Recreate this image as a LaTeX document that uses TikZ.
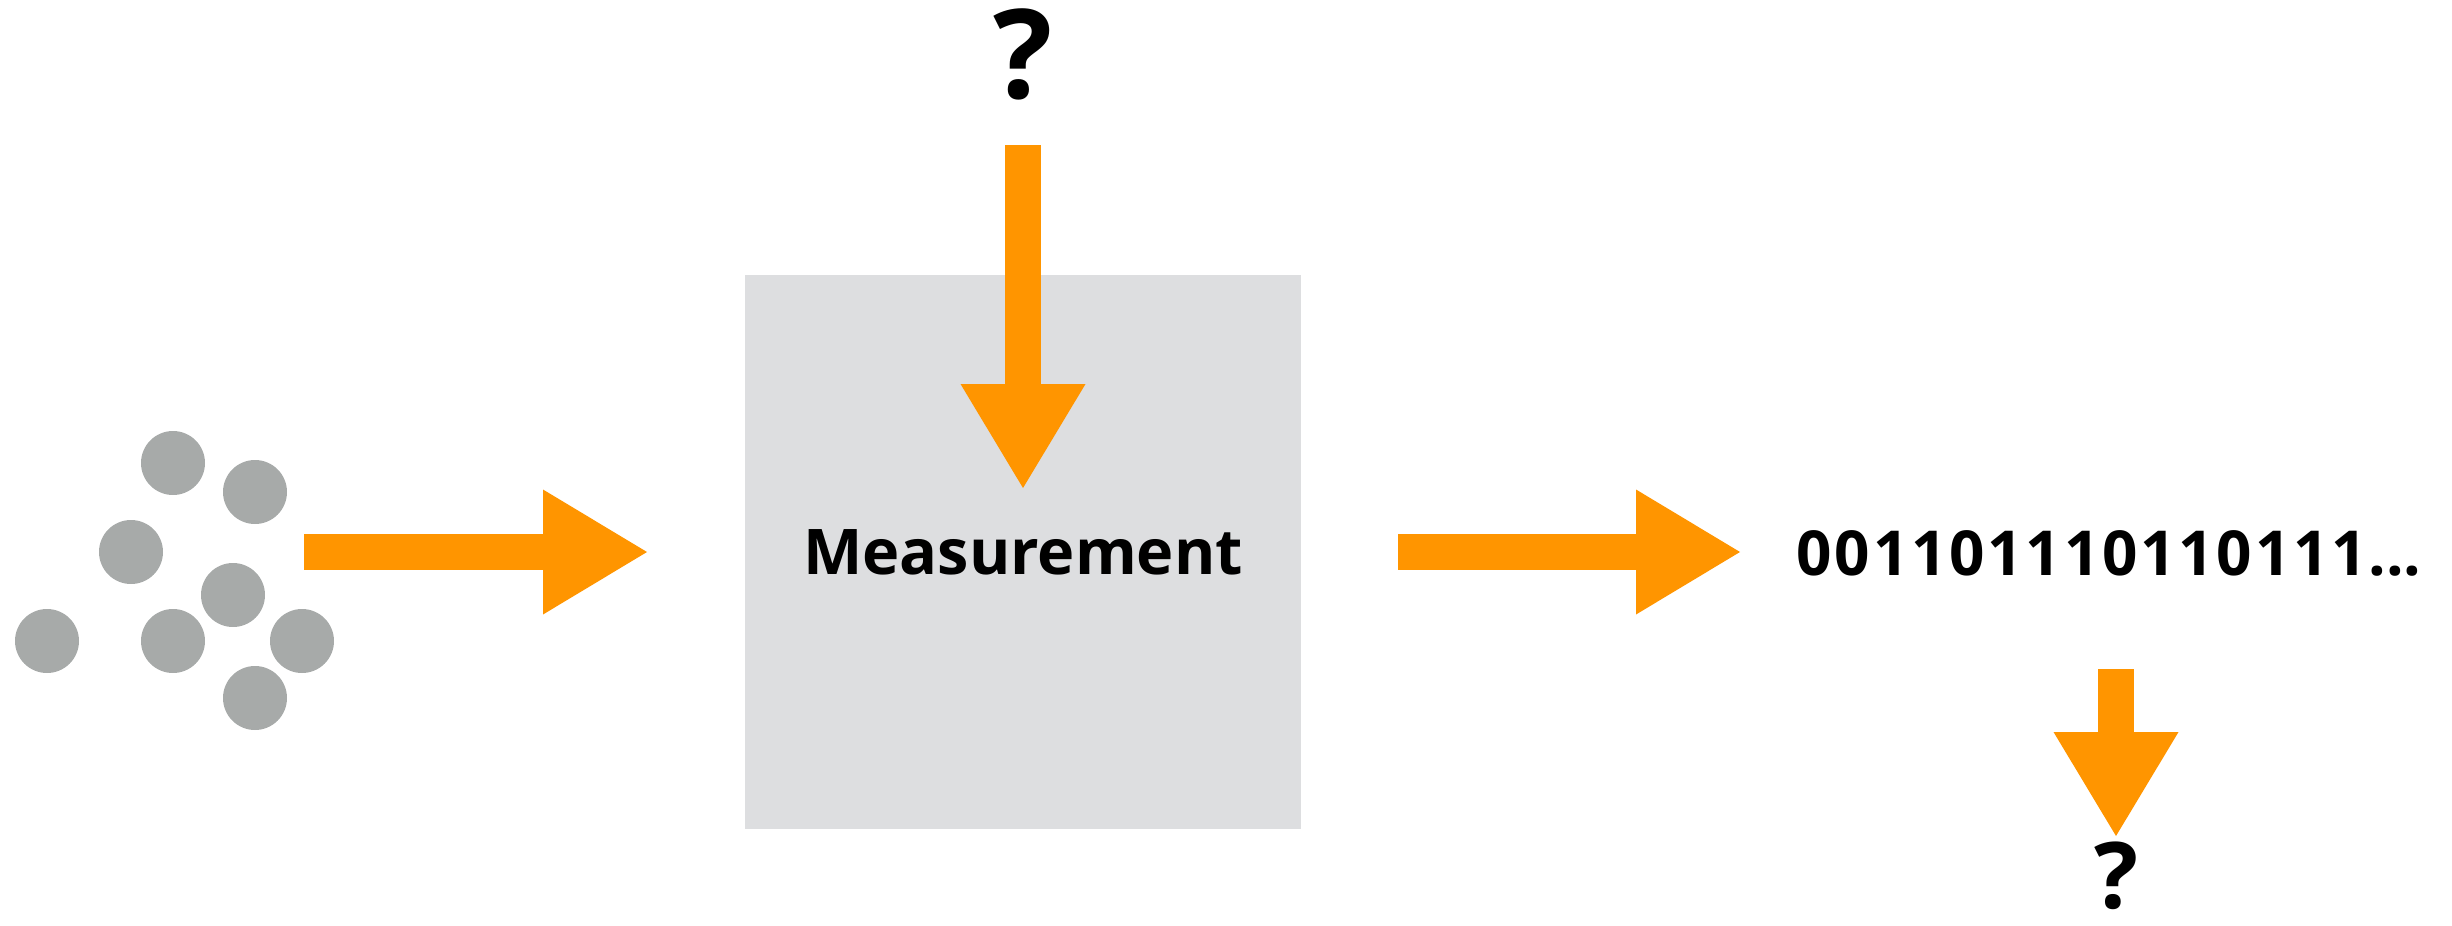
\documentclass[tikz,border=0pt]{standalone}
\usepackage{fontspec}
\setmainfont{Open Sans}
\usetikzlibrary{arrows.meta}
\definecolor{flowC}{RGB}{255,149,0}
\definecolor{dotC}{RGB}{167,170,169}
\definecolor{boxC}{RGB}{221,222,224}
% one fixed-width cell per binary digit
\newcommand\bitcell[1]{\makebox[38.2pt]{#1}}
\begin{document}
\begin{tikzpicture}[x=1pt,y=-1pt,
  particle/.style={circle,fill=dotC,minimum size=64pt,inner sep=0pt},
  stage/.style={fill=boxC,minimum width=556pt,minimum height=554pt,inner sep=0pt,
    font=\fontsize{63}{70}\selectfont\bfseries},
  flow/.style={draw=flowC,line width=36pt,
    -{Triangle[length=104pt,width=125pt,line width=0pt]}},
  query/.style={inner sep=0pt,anchor=base,font=\fontsize{124}{130}\selectfont\bfseries},
  bitrow/.style={inner sep=0pt,anchor=base west,font=\fontsize{62}{70}\selectfont\bfseries}]
\useasboundingbox (0,0) rectangle (2452,926);

% incoming particles
\node[particle] (d1) at (173,463) {};
\node[particle] (d2) at (255,492) {};
\node[particle] (d3) at (131,552) {};
\node[particle] (d4) at (233,595) {};
\node[particle] (d5) at (47,641) {};
\node[particle] (d6) at (173,641) {};
\node[particle] (d7) at (302,641) {};
\node[particle] (d8) at (255,698) {};

% measurement stage
\node[stage] (meas) at (1023,552) {Measurement};

% unknowns
\node[query] (qtop) at (1023,98) {?};
\node[query,font=\fontsize{92}{100}\selectfont\bfseries] (qbot) at (2116,908) {?};

% output bit string
\node[bitrow] (bits) at (1795,575)
  {\bitcell{0}\bitcell{0}\bitcell{1}\bitcell{1}\bitcell{0}\bitcell{1}\bitcell{1}\bitcell{1}\bitcell{0}\bitcell{1}\bitcell{1}\bitcell{0}\bitcell{1}\bitcell{1}\bitcell{1}...};

% arrow end points
\coordinate (inS) at (304,552);
\coordinate (inE) at (647,552);
\coordinate (topS) at (1023,145);
\coordinate (topE) at (1023,488);
\coordinate (outS) at (1398,552);
\coordinate (outE) at (1740,552);
\coordinate (botS) at (2116,669);
\coordinate (botE) at (2116,836);

\draw[flow] (inS) -- (inE);
\draw[flow] (topS) -- (topE);
\draw[flow] (outS) -- (outE);
\draw[flow] (botS) -- (botE);
\end{tikzpicture}
\end{document}
